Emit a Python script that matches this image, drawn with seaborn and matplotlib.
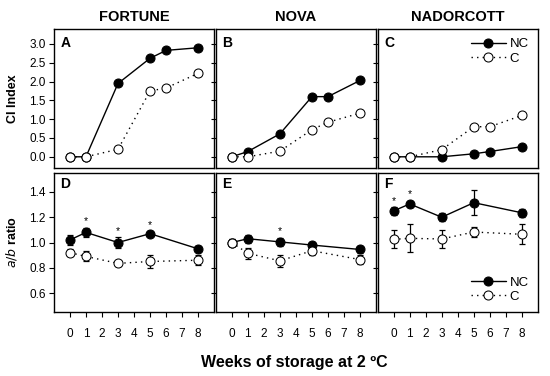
import pandas as pd
import matplotlib.pyplot as plt
import seaborn as sns
import numpy as np

# CI index (top row): weeks 0,1,3,5,6,8
ci_weeks = [0, 1, 3, 5, 6, 8]
fortune_ci_nc = [0.0, 0.0, 1.95, 2.62, 2.83, 2.90]
fortune_ci_c = [0.0, 0.0, 0.20, 1.75, 1.83, 2.22]
nova_ci_nc = [0.0, 0.14, 0.61, 1.60, 1.60, 2.03]
nova_ci_c = [0.0, 0.0, 0.15, 0.72, 0.92, 1.16]
nador_ci_nc = [0.0, 0.0, 0.0, 0.08, 0.14, 0.27]
nador_ci_c = [0.0, 0.0, 0.19, 0.80, 0.80, 1.10]

# a/b ratio (bottom row): weeks 0,1,3,5,8
ab_weeks = [0, 1, 3, 5, 8]
fortune_ab_nc = [1.02, 1.08, 1.00, 1.07, 0.95]
fortune_ab_nc_err = [0.04, 0.035, 0.04, 0.02, 0.02]
fortune_ab_c = [0.92, 0.89, 0.835, 0.85, 0.86]
fortune_ab_c_err = [0.03, 0.04, 0.02, 0.055, 0.04]
nova_ab_nc = [1.0, 1.03, 1.005, 0.98, 0.945]
nova_ab_nc_err = [0.03, 0.03, 0.03, 0.025, 0.025]
nova_ab_c = [1.0, 0.915, 0.855, 0.935, 0.865]
nova_ab_c_err = [0.03, 0.045, 0.05, 0.03, 0.035]
nador_ab_nc = [1.25, 1.305, 1.20, 1.315, 1.235]
nador_ab_nc_err = [0.03, 0.025, 0.03, 0.10, 0.03]
nador_ab_c = [1.025, 1.033, 1.028, 1.083, 1.065]
nador_ab_c_err = [0.07, 0.11, 0.07, 0.04, 0.08]

# significance stars (weeks)
fortune_stars = [1, 3, 5]
nova_stars = [3]
nador_stars = [0, 1]

cultivars = ['FORTUNE', 'NOVA', 'NADORCOTT']
top_letters = ['A', 'B', 'C']
bottom_letters = ['D', 'E', 'F']

sns.set_style('ticks')
plt.rcParams['font.family'] = ['Liberation Sans', 'DejaVu Sans']
plt.rcParams['text.color'] = 'black'
plt.rcParams['axes.labelcolor'] = 'black'
plt.rcParams['xtick.color'] = 'black'
plt.rcParams['ytick.color'] = 'black'
plt.rcParams['axes.edgecolor'] = 'black'

ci_nc = [fortune_ci_nc, nova_ci_nc, nador_ci_nc]
ci_c = [fortune_ci_c, nova_ci_c, nador_ci_c]
ab_nc = [fortune_ab_nc, nova_ab_nc, nador_ab_nc]
ab_nc_err = [fortune_ab_nc_err, nova_ab_nc_err, nador_ab_nc_err]
ab_c = [fortune_ab_c, nova_ab_c, nador_ab_c]
ab_c_err = [fortune_ab_c_err, nova_ab_c_err, nador_ab_c_err]
stars = [fortune_stars, nova_stars, nador_stars]

fig, axes = plt.subplots(2, 3, figsize=(5.5, 3.76), dpi=100)
plt.subplots_adjust(left=0.098, right=0.978, top=0.923, bottom=0.170,
                    wspace=0.01, hspace=0.035)

nc_style = dict(color='black', marker='o', markersize=6.5, markerfacecolor='black',
                markeredgecolor='black', linewidth=1.0, linestyle='-')
c_style = dict(color='black', marker='o', markersize=6.5, markerfacecolor='white',
               markeredgecolor='black', linewidth=1.0, linestyle=(0, (1, 3)))
leg_kw = dict(frameon=False, fontsize=9.5, handlelength=2.6, handletextpad=0.3,
              borderaxespad=0.3, labelspacing=0.15)

for i in range(3):
    # top row: CI index
    ax = axes[0, i]
    df = pd.DataFrame({'week': ci_weeks, 'NC': ci_nc[i], 'C': ci_c[i]})
    sns.lineplot(data=df, x='week', y='NC', ax=ax, label='NC', **nc_style)
    sns.lineplot(data=df, x='week', y='C', ax=ax, label='C', **c_style)
    ax.set_xlim(-1, 9)
    ax.set_ylim(-0.3, 3.4)
    ax.set_yticks(np.arange(0, 3.01, 0.5))
    ax.set_xticks([])
    ax.set_xlabel('')
    ax.set_title(cultivars[i], fontsize=10.5, fontweight='bold', pad=6)
    ax.text(0.04, 0.95, top_letters[i], transform=ax.transAxes, fontsize=10,
            fontweight='bold', va='top', ha='left')
    if i == 0:
        ax.set_ylabel('CI Index', fontsize=9, fontweight='bold')
        ax.set_yticklabels([f'{v:.1f}' for v in np.arange(0, 3.01, 0.5)])
    else:
        ax.set_ylabel('')
        ax.set_yticklabels([])
    if i == 2:
        ax.legend(loc='upper right', **leg_kw)
    else:
        ax.get_legend().remove()

    # bottom row: a/b ratio
    ax = axes[1, i]
    df = pd.DataFrame({'week': ab_weeks, 'NC': ab_nc[i], 'C': ab_c[i]})
    ax.errorbar(ab_weeks, ab_c[i], yerr=ab_c_err[i], fmt='none', ecolor='black',
                elinewidth=0.9, capsize=2.5, capthick=0.9)
    ax.errorbar(ab_weeks, ab_nc[i], yerr=ab_nc_err[i], fmt='none', ecolor='black',
                elinewidth=0.9, capsize=2.5, capthick=0.9)
    sns.lineplot(data=df, x='week', y='NC', ax=ax, label='NC', **nc_style)
    sns.lineplot(data=df, x='week', y='C', ax=ax, label='C', **c_style)
    for w in stars[i]:
        k = ab_weeks.index(w)
        ax.text(w, ab_nc[i][k] + ab_nc_err[i][k] + 0.012, '*', ha='center',
                va='bottom', fontsize=7.5)
    ax.set_xlim(-1, 9)
    ax.set_ylim(0.45, 1.55)
    ax.set_yticks([0.6, 0.8, 1.0, 1.2, 1.4])
    ax.set_xticks(range(0, 9))
    ax.set_xticklabels([str(v) for v in range(0, 9)])
    ax.set_xlabel('')
    ax.text(0.04, 0.97, bottom_letters[i], transform=ax.transAxes, fontsize=10,
            fontweight='bold', va='top', ha='left')
    if i == 0:
        ax.set_ylabel(r'$\mathbf{\it{a/b}}$ ratio', fontsize=9, fontweight='bold')
    else:
        ax.set_ylabel('')
        ax.set_yticklabels([])
    if i == 2:
        ax.legend(loc='lower right', **leg_kw)
    else:
        ax.get_legend().remove()

for ax in axes.flat:
    for s in ax.spines.values():
        s.set_visible(True)
        s.set_linewidth(1.0)
        s.set_color('black')
    ax.tick_params(direction='out', length=3.5, width=0.8, labelsize=8.5, pad=2.5,
                   colors='black')
    ax.yaxis.set_label_coords(-0.22, 0.5)
for ax in axes[1]:
    ax.tick_params(axis='x', pad=8)

fig.text(0.535, 0.025, 'Weeks of storage at 2 ºC', ha='center', fontsize=11.5,
         fontweight='bold')

plt.savefig('out.png', dpi=100)
